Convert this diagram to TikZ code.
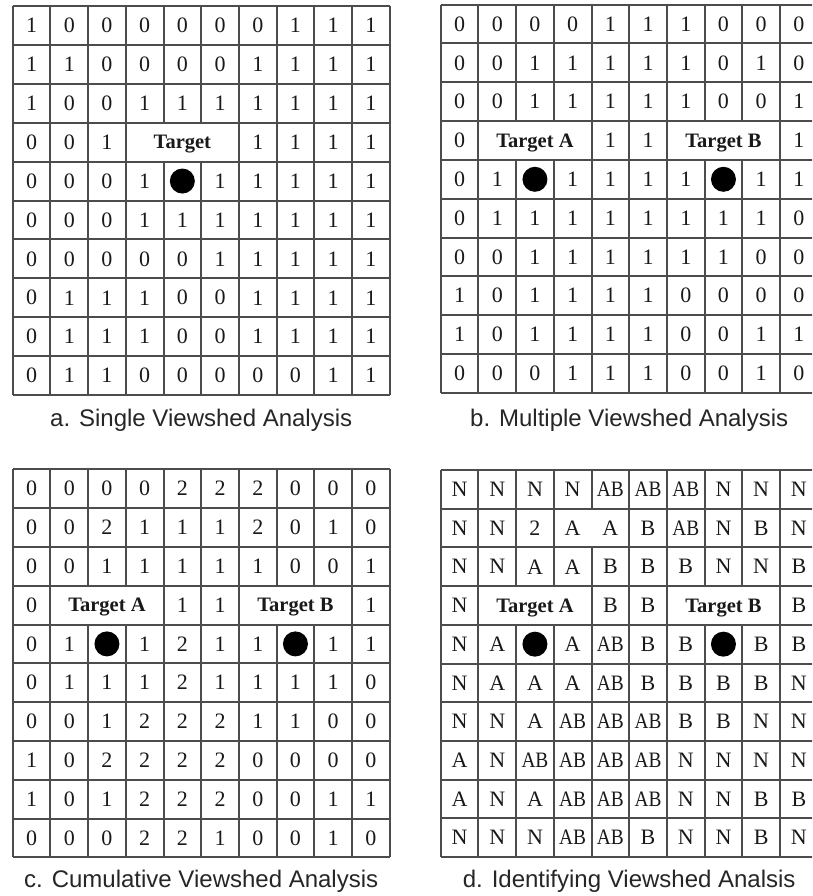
\documentclass[tikz,border=0pt]{standalone}
\usepackage{fontspec}
\setmainfont{Liberation Serif}
\newfontfamily\capfont{Liberation Sans}
\newcommand{\pairAB}{\scalebox{0.88}[1]{AB}}

\tikzset{
    cellval/.style={font=\fontsize{22}{22}\selectfont, text=black!90, inner sep=0pt},
    targetlbl/.style={font=\bfseries\fontsize{20.5}{20.5}\selectfont, text=black!90, inner sep=0pt, text depth=0pt},
    gridline/.style={draw=black!70, line width=2pt, line cap=square},
    marker/.style={circle, fill=black, minimum size=25pt, inner sep=0pt},
    caption/.style={font=\capfont\fontsize{24}{24}\selectfont, text=black!85, inner sep=0pt, anchor=base},
}

\begin{document}
\begin{tikzpicture}[x=1pt, y=-1pt]
    % Fix the page to the size of the reference
    \useasboundingbox (0,0) rectangle (812,896);
    \clip (0,0) rectangle (812,896);
    \fill[white] (0,0) rectangle (812,896);
    %
    \begin{scope}[shift={(12.7,6)}]
        \def\cw{37.7}       % cell width
        \def\ch{38.9}       % cell height
        % Draw the cell values
        \foreach \row [count=\ri from 0] in {{1,0,0,0,0,0,0,1,1,1},{1,1,0,0,0,0,1,1,1,1},{1,0,0,1,1,1,1,1,1,1},{0,0,1,,,,1,1,1,1},{0,0,0,1,,1,1,1,1,1},{0,0,0,1,1,1,1,1,1,1},{0,0,0,0,0,1,1,1,1,1},{0,1,1,1,0,0,1,1,1,1},{0,1,1,1,0,0,1,1,1,1},{0,1,1,0,0,0,0,0,1,1}}
            \foreach \v [count=\ci from 0] in \row
                \node[cellval] (a-\ri-\ci) at ({(\ci+0.5)*\cw}, {(\ri+0.5)*\ch}) {\v};
        % Draw the target and its viewpoint
        \node[targetlbl] (a-target) at ({4.5*\cw}, {3.5*\ch}) {Target};
        \node[marker] (a-dot) at ({4.5*\cw}, {4.5*\ch}) {};
        % Draw the rules, leaving the target cell open
        \foreach \ri in {0,...,10}
            \draw[gridline] (0, {\ri*\ch}) -- ({10*\cw}, {\ri*\ch});
        \foreach \ci in {0,...,10} {
            \draw[gridline] ({\ci*\cw}, 0) -- ({\ci*\cw}, {3*\ch});
            \draw[gridline] ({\ci*\cw}, {4*\ch}) -- ({\ci*\cw}, {10*\ch});
        }
        \foreach \ci in {0,1,2,3,6,7,8,9,10}
            \draw[gridline] ({\ci*\cw}, {3*\ch}) -- ({\ci*\cw}, {4*\ch});
        \node[caption] (a-caption) at ({5*\cw}, 420.5) {a. Single Viewshed Analysis};
    \end{scope}
    %
    \begin{scope}[shift={(440.7,4.7)}]
        \def\cw{37.7}       % cell width
        \def\ch{38.8}       % cell height
        % Draw the cell values
        \foreach \row [count=\ri from 0] in {{0,0,0,0,1,1,1,0,0,0},{0,0,1,1,1,1,1,0,1,0},{0,0,1,1,1,1,1,0,0,1},{0,,,,1,1,,,,1},{0,1,,1,1,1,1,,1,1},{0,1,1,1,1,1,1,1,1,0},{0,0,1,1,1,1,1,1,0,0},{1,0,1,1,1,1,0,0,0,0},{1,0,1,1,1,1,0,0,1,1},{0,0,0,1,1,1,0,0,1,0}}
            \foreach \v [count=\ci from 0] in \row
                \node[cellval] (b-\ri-\ci) at ({(\ci+0.5)*\cw}, {(\ri+0.5)*\ch}) {\v};
        % Draw the two targets and their viewpoints
        \node[targetlbl] (b-targetA) at ({2.5*\cw}, {3.5*\ch}) {Target A};
        \node[targetlbl] (b-targetB) at ({7.5*\cw}, {3.5*\ch}) {Target B};
        \node[marker] (b-dotA) at ({2.5*\cw}, {4.5*\ch}) {};
        \node[marker] (b-dotB) at ({7.5*\cw}, {4.5*\ch}) {};
        % Draw the rules, leaving the target cells open
        \foreach \ri in {0,...,10}
            \draw[gridline] (0, {\ri*\ch}) -- ({10*\cw}, {\ri*\ch});
        \foreach \ci in {0,...,10} {
            \draw[gridline] ({\ci*\cw}, 0) -- ({\ci*\cw}, {3*\ch});
            \draw[gridline] ({\ci*\cw}, {4*\ch}) -- ({\ci*\cw}, {10*\ch});
        }
        \foreach \ci in {0,1,4,5,6,9,10}
            \draw[gridline] ({\ci*\cw}, {3*\ch}) -- ({\ci*\cw}, {4*\ch});
        \node[caption] (b-caption) at ({5*\cw}, 421.8) {b. Multiple Viewshed Analysis};
    \end{scope}
    %
    \begin{scope}[shift={(12.7,469.3)}]
        \def\cw{37.7}       % cell width
        \def\ch{38.8}       % cell height
        % Draw the summed cell values
        \foreach \row [count=\ri from 0] in {{0,0,0,0,2,2,2,0,0,0},{0,0,2,1,1,1,2,0,1,0},{0,0,1,1,1,1,1,0,0,1},{0,,,,1,1,,,,1},{0,1,,1,2,1,1,,1,1},{0,1,1,1,2,1,1,1,1,0},{0,0,1,2,2,2,1,1,0,0},{1,0,2,2,2,2,0,0,0,0},{1,0,1,2,2,2,0,0,1,1},{0,0,0,2,2,1,0,0,1,0}}
            \foreach \v [count=\ci from 0] in \row
                \node[cellval] (c-\ri-\ci) at ({(\ci+0.5)*\cw}, {(\ri+0.5)*\ch}) {\v};
        % Draw the two targets and their viewpoints
        \node[targetlbl] (c-targetA) at ({2.5*\cw}, {3.5*\ch}) {Target A};
        \node[targetlbl] (c-targetB) at ({7.5*\cw}, {3.5*\ch}) {Target B};
        \node[marker] (c-dotA) at ({2.5*\cw}, {4.5*\ch}) {};
        \node[marker] (c-dotB) at ({7.5*\cw}, {4.5*\ch}) {};
        % Draw the rules, leaving the target cells open
        \foreach \ri in {0,...,10}
            \draw[gridline] (0, {\ri*\ch}) -- ({10*\cw}, {\ri*\ch});
        \foreach \ci in {0,...,10} {
            \draw[gridline] ({\ci*\cw}, 0) -- ({\ci*\cw}, {3*\ch});
            \draw[gridline] ({\ci*\cw}, {4*\ch}) -- ({\ci*\cw}, {10*\ch});
        }
        \foreach \ci in {0,1,4,5,6,9,10}
            \draw[gridline] ({\ci*\cw}, {3*\ch}) -- ({\ci*\cw}, {4*\ch});
        \node[caption] (c-caption) at ({5*\cw}, 417.7) {c. Cumulative Viewshed Analysis};
    \end{scope}
    %
    \begin{scope}[shift={(440.7,470)}]
        \def\cw{37.7}       % cell width
        \def\ch{38.7}       % cell height
        % Draw which target sees each cell
        \foreach \row [count=\ri from 0] in {{N,N,N,N,\pairAB,\pairAB,\pairAB,N,N,N},{N,N,2,A,A,B,\pairAB,N,B,N},{N,N,A,A,B,B,B,N,N,B},{N,,,,B,B,,,,B},{N,A,,A,\pairAB,B,B,,B,B},{N,A,A,A,\pairAB,B,B,B,B,N},{N,N,A,\pairAB,\pairAB,\pairAB,B,B,N,N},{A,N,\pairAB,\pairAB,\pairAB,\pairAB,N,N,N,N},{A,N,A,\pairAB,\pairAB,\pairAB,N,N,B,B},{N,N,N,\pairAB,\pairAB,B,N,N,B,N}}
            \foreach \v [count=\ci from 0] in \row
                \node[cellval] (d-\ri-\ci) at ({(\ci+0.5)*\cw}, {(\ri+0.5)*\ch}) {\v};
        % Draw the two targets and their viewpoints
        \node[targetlbl] (d-targetA) at ({2.5*\cw}, {3.5*\ch}) {Target A};
        \node[targetlbl] (d-targetB) at ({7.5*\cw}, {3.5*\ch}) {Target B};
        \node[marker] (d-dotA) at ({2.5*\cw}, {4.5*\ch}) {};
        \node[marker] (d-dotB) at ({7.5*\cw}, {4.5*\ch}) {};
        % Draw the rules, leaving the target cells and the A A cell open
        \foreach \ri in {0,...,10}
            \draw[gridline] (0, {\ri*\ch}) -- ({10*\cw}, {\ri*\ch});
        \foreach \ci in {0,...,10} {
            \draw[gridline] ({\ci*\cw}, {2*\ch}) -- ({\ci*\cw}, {3*\ch});
            \draw[gridline] ({\ci*\cw}, {4*\ch}) -- ({\ci*\cw}, {10*\ch});
            \draw[gridline] ({\ci*\cw}, 0) -- ({\ci*\cw}, {\ch});
        }
        \foreach \ci in {0,1,2,3,5,6,7,8,9,10}
            \draw[gridline] ({\ci*\cw}, {\ch}) -- ({\ci*\cw}, {2*\ch});
        \foreach \ci in {0,1,4,5,6,9,10}
            \draw[gridline] ({\ci*\cw}, {3*\ch}) -- ({\ci*\cw}, {4*\ch});
        \node[caption] (d-caption) at ({5*\cw}, 417) {d. Identifying Viewshed Analsis};
    \end{scope}
\end{tikzpicture}
\end{document}
